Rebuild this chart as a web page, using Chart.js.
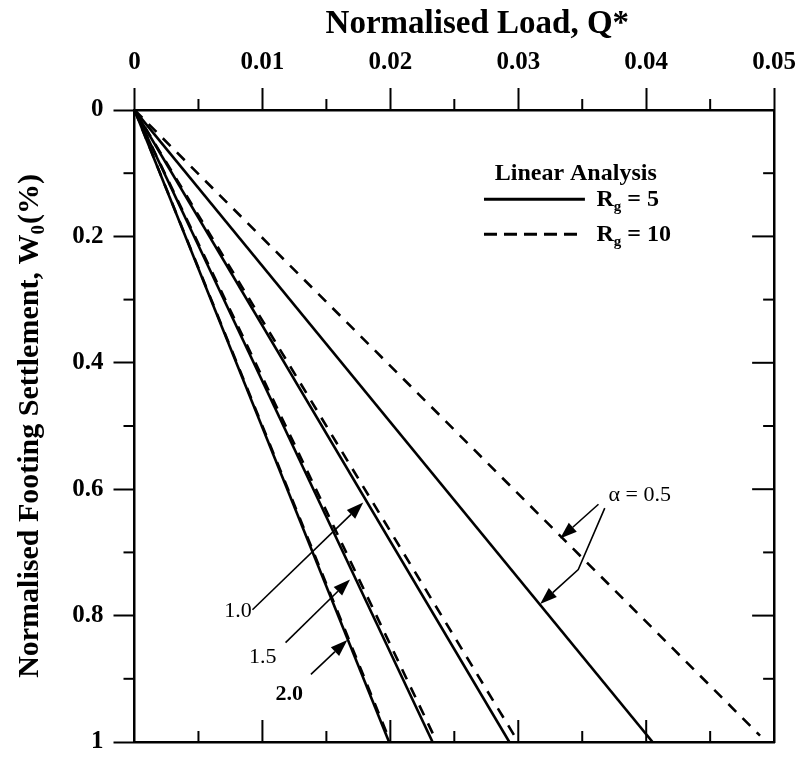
<!DOCTYPE html>
<html>
<head>
<meta charset="utf-8">
<script src="https://cdn.jsdelivr.net/npm/chart.js@4.4.1/dist/chart.umd.min.js"></script>
<style>
  html, body { margin: 0; padding: 0; background: #fff; }
  #wrap { width: 806px; height: 767px; position: relative; }
</style>
</head>
<body>
<div id="wrap"><canvas id="c"></canvas></div>
<script>
// ---------- data ----------
const xTickValues = [0, 0.01, 0.02, 0.03, 0.04, 0.05];
const xTickLabels = ['0', '0.01', '0.02', '0.03', '0.04', '0.05'];
const yTickValues = [0, 0.2, 0.4, 0.6, 0.8, 1];
const yTickLabels = ['0', '0.2', '0.4', '0.6', '0.8', '1'];

// Normalised footing settlement W0 (%) at the two ends of each line
const wSolid = [0, 1.0];
const wDash  = [0, 0.99];

// Normalised load Q* for Rg = 5 (solid)
const qRg5_a05 = [0, 0.0405];
const qRg5_a10 = [0, 0.0293];
const qRg5_a15 = [0, 0.0233];
const qRg5_a20 = [0, 0.0199];

// Normalised load Q* for Rg = 10 (dashed)
const qRg10_a05 = [0, 0.0489];
const qRg10_a10 = [0, 0.0297];
const qRg10_a15 = [0, 0.0234];
const qRg10_a20 = [0, 0.0198];

const FONT = "'Liberation Serif', 'Times New Roman', serif";

function pts(qs, ws) { return qs.map((q, i) => ({ x: q, y: ws[i] })); }

function series(label, qs, ws, dashed) {
  return {
    label: label,
    data: pts(qs, ws),
    borderColor: '#000',
    borderWidth: 2.6,
    borderDash: dashed ? [11, 9] : [],
    pointRadius: 0,
    fill: false,
    tension: 0
  };
}

const datasets = [
  series('Rg=10 a=0.5', qRg10_a05, wDash, true),
  series('Rg=10 a=1.0', qRg10_a10, wDash, true),
  series('Rg=10 a=1.5', qRg10_a15, wDash, true),
  series('Rg=10 a=2.0', qRg10_a20, wDash, true),
  series('Rg=5 a=0.5', qRg5_a05, wSolid, false),
  series('Rg=5 a=1.0', qRg5_a10, wSolid, false),
  series('Rg=5 a=1.5', qRg5_a15, wSolid, false),
  series('Rg=5 a=2.0', qRg5_a20, wSolid, false)
];

// annotation labels (data coordinates)
const annoTexts = [
  { text: 'α = 0.5', x: 0.03705, y: 0.619, bold: false },
  { text: '1.0', x: 0.00702, y: 0.802, bold: false },
  { text: '1.5', x: 0.00896, y: 0.875, bold: false },
  { text: '2.0', x: 0.01103, y: 0.934, bold: true }
];
// arrows: polyline points, last point is the arrow tip
const annoArrows = [
  [[0.03627, 0.6238], [0.03327, 0.6781]],
  [[0.03676, 0.630], [0.03469, 0.7272], [0.03171, 0.7815]],
  [[0.00922, 0.7908], [0.01788, 0.6211]],
  [[0.01181, 0.8427], [0.01685, 0.7427]],
  [[0.01379, 0.8929], [0.01664, 0.8385]]
];

function labelFor(values, labels, v) {
  for (let i = 0; i < values.length; i++) if (Math.abs(values[i] - v) < 1e-9) return labels[i];
  return '';
}

// ---------- plugin: minor / inward ticks, titles, legend, annotations ----------
const decor = {
  id: 'decor',
  afterDraw(chart) {
    const ctx = chart.ctx;
    const xs = chart.scales.x, ys = chart.scales.y;
    const ca = chart.chartArea;
    ctx.save();
    ctx.strokeStyle = '#000';
    ctx.fillStyle = '#000';
    ctx.lineWidth = 2;
    ctx.lineCap = 'butt';

    // top minor ticks (outward) and bottom inward ticks
    for (let i = 0; i <= 10; i++) {
      const v = i * 0.005;
      const px = xs.getPixelForValue(v);
      if (i % 2 === 1) {
        ctx.beginPath(); ctx.moveTo(px, ca.top); ctx.lineTo(px, ca.top - 11); ctx.stroke();
      }
      if (i > 0 && i < 10) {
        const len = (i % 2 === 0) ? 22 : 11;
        ctx.beginPath(); ctx.moveTo(px, ca.bottom); ctx.lineTo(px, ca.bottom - len); ctx.stroke();
      }
    }
    // left minor ticks (outward) and right inward ticks
    for (let i = 0; i <= 10; i++) {
      const v = i * 0.1;
      const py = ys.getPixelForValue(v);
      if (i % 2 === 1) {
        ctx.beginPath(); ctx.moveTo(ca.left, py); ctx.lineTo(ca.left - 11, py); ctx.stroke();
      }
      if (i > 0 && i < 10) {
        const len = (i % 2 === 0) ? 22 : 11;
        ctx.beginPath(); ctx.moveTo(ca.right, py); ctx.lineTo(ca.right - len, py); ctx.stroke();
      }
    }

    // x axis title
    ctx.font = 'bold 33px ' + FONT;
    ctx.textAlign = 'center'; ctx.textBaseline = 'middle';
    ctx.fillText('Normalised Load, Q*', xs.getPixelForValue(0.0268), 24);

    // y axis title with subscript
    {
      const mainF = 'bold 30px ' + FONT, subF = 'bold 19px ' + FONT;
      const p1 = 'Normalised Footing Settlement, W', p2 = '0', p3 = '(%)';
      ctx.font = mainF; const w1 = ctx.measureText(p1).width, w3 = ctx.measureText(p3).width;
      ctx.font = subF; const w2 = ctx.measureText(p2).width;
      const total = w1 + w2 + 1 + w3;
      ctx.save();
      ctx.translate(38, (ca.top + ca.bottom) / 2);
      ctx.rotate(-Math.PI / 2);
      ctx.textBaseline = 'alphabetic';
      ctx.textAlign = 'left';
      let x0 = -total / 2;
      ctx.font = mainF; ctx.fillText(p1, x0, 0); x0 += w1;
      ctx.font = subF; ctx.fillText(p2, x0, 6); x0 += w2 + 1;
      ctx.font = mainF; ctx.fillText(p3, x0, 0);
      ctx.restore();
    }

    const X = v => xs.getPixelForValue(v), Y = v => ys.getPixelForValue(v);
    // legend
    {
      ctx.font = 'bold 24px ' + FONT;
      ctx.textAlign = 'center'; ctx.textBaseline = 'alphabetic';
      ctx.fillText('Linear Analysis', X(0.03449), Y(0.1113));
      ctx.lineWidth = 3;
      ctx.beginPath(); ctx.moveTo(X(0.02732), Y(0.1413)); ctx.lineTo(X(0.03521), Y(0.1413)); ctx.stroke();
      ctx.setLineDash([13, 7]);
      ctx.beginPath(); ctx.moveTo(X(0.02732), Y(0.1967)); ctx.lineTo(X(0.03482), Y(0.1967)); ctx.stroke();
      ctx.setLineDash([]);
      const rg = (tail, x, y) => {
        ctx.textAlign = 'left';
        ctx.font = 'bold 24px ' + FONT; ctx.fillText('R', x, y);
        let xx = x + ctx.measureText('R').width;
        ctx.font = 'bold 15px ' + FONT; ctx.fillText('g', xx, y + 5);
        xx += ctx.measureText('g').width;
        ctx.font = 'bold 24px ' + FONT; ctx.fillText(tail, xx, y);
      };
      rg(' = 5', X(0.03611), Y(0.1526));
      rg(' = 10', X(0.03611), Y(0.2065));
    }
    // annotations
    {
      annoTexts.forEach(t => {
        ctx.font = (t.bold ? 'bold ' : '') + '22px ' + FONT;
        ctx.textAlign = 'left'; ctx.textBaseline = 'alphabetic';
        ctx.fillText(t.text, X(t.x), Y(t.y));
      });
      ctx.lineWidth = 1.6;
      annoArrows.forEach(a => {
        const p = a.map(q => [X(q[0]), Y(q[1])]);
        const n = p.length;
        const tip = p[n - 1], prev = p[n - 2];
        const ang = Math.atan2(tip[1] - prev[1], tip[0] - prev[0]);
        const hl = 17, hw = 6;
        const bx = tip[0] - hl * Math.cos(ang), by = tip[1] - hl * Math.sin(ang);
        ctx.beginPath();
        ctx.moveTo(p[0][0], p[0][1]);
        for (let i = 1; i < n - 1; i++) ctx.lineTo(p[i][0], p[i][1]);
        ctx.lineTo(bx, by);
        ctx.stroke();
        ctx.beginPath();
        ctx.moveTo(tip[0], tip[1]);
        ctx.lineTo(bx + hw * Math.sin(ang), by - hw * Math.cos(ang));
        ctx.lineTo(bx - hw * Math.sin(ang), by + hw * Math.cos(ang));
        ctx.closePath();
        ctx.fill();
      });
    }
    ctx.restore();
  }
};

const tickFont = { family: FONT, size: 25, weight: 'bold' };

new Chart(document.getElementById('c'), {
  type: 'line',
  data: { datasets: datasets },
  options: {
    responsive: true,
    maintainAspectRatio: false,
    animation: false,
    layout: { padding: { left: 0, top: 0, right: 27, bottom: 13 } },
    plugins: { legend: { display: false }, tooltip: { enabled: false } },
    scales: {
      x: {
        type: 'linear', position: 'top', min: 0, max: 0.05,
        ticks: {
          stepSize: 0.01, font: tickFont, color: '#000', padding: 10, maxRotation: 0,
          callback: v => labelFor(xTickValues, xTickLabels, v)
        },
        grid: { drawOnChartArea: false, drawTicks: true, tickLength: 22, tickWidth: 2, tickColor: '#000' },
        border: { display: true, color: '#000', width: 2.5 },
        title: { display: false },
        afterFit: s => { s.height = 110; }
      },
      x2: {
        type: 'linear', position: 'bottom', min: 0, max: 0.05, display: true,
        ticks: { display: false, stepSize: 0.01 },
        grid: { drawOnChartArea: false, drawTicks: false },
        border: { display: true, color: '#000', width: 2.5 },
        afterFit: s => { s.height = 0; }
      },
      y: {
        type: 'linear', position: 'left', min: 0, max: 1, reverse: true,
        ticks: {
          stepSize: 0.2, font: tickFont, color: '#000', padding: 10,
          callback: v => labelFor(yTickValues, yTickLabels, v)
        },
        grid: { drawOnChartArea: false, drawTicks: true, tickLength: 21, tickWidth: 2, tickColor: '#000' },
        border: { display: true, color: '#000', width: 2.5 },
        afterFit: s => { s.width = 134.5; }
      },
      y2: {
        type: 'linear', position: 'right', min: 0, max: 1, reverse: true, display: true,
        ticks: { display: false, stepSize: 0.2 },
        grid: { drawOnChartArea: false, drawTicks: false },
        border: { display: true, color: '#000', width: 2.5 },
        afterFit: s => { s.width = 0; }
      }
    }
  },
  plugins: [decor]
});
</script>
</body>
</html>
